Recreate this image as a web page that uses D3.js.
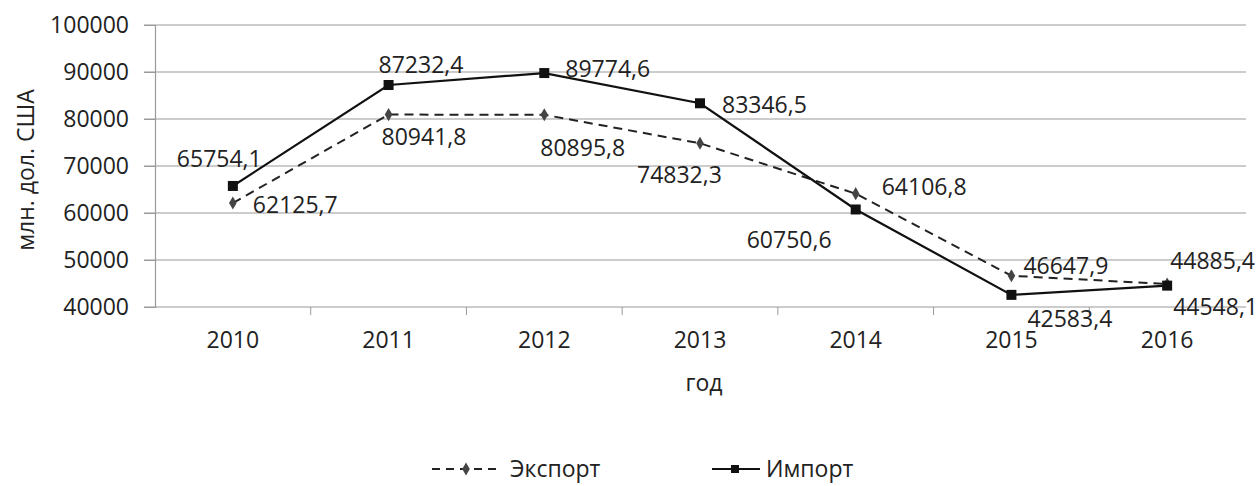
<html>
<head>
<meta charset="utf-8">
<script src="https://d3js.org/d3.v7.min.js"></script>
<style>
  body { margin: 0; background: #fff; }
  text { font-family: "Open Sans", sans-serif; fill: #222; }
</style>
</head>
<body>
<div id="chart"></div>
<script>
const years = ["2010", "2011", "2012", "2013", "2014", "2015", "2016"];
const exportVals = [62125.7, 80941.8, 80895.8, 74832.3, 64106.8, 46647.9, 44885.4];
const importVals = [65754.1, 87232.4, 89774.6, 83346.5, 60750.6, 42583.4, 44548.1];
const yTicks = [40000, 50000, 60000, 70000, 80000, 90000, 100000];

// label placement (dx, dy) from each point, text starts there
const exportLabelPos = [[20, 10], [-7, 30], [-4, 41], [-63, 40], [26, 1], [12, -2], [3, -15]];
const importLabelPos = [[-56, -19], [-10, -12], [21, 4], [22, 10], [-109, 39], [16, 32], [6, 29]];

const W = 1260, H = 486;
const margin = { top: 25, left: 155, right: 1245 };

const svg = d3.select("#chart").append("svg").attr("width", W).attr("height", H);

const x = d3.scaleBand().domain(years).range([margin.left, margin.right]);
const y = d3.scaleLinear().domain([40000, 100000]).range([307, margin.top]);
const cx = d => x(d) + x.bandwidth() / 2;

// gridlines
svg.append("g").selectAll("line").data(yTicks).join("line")
  .attr("x1", margin.left - 11).attr("x2", 1246)
  .attr("y1", d => y(d)).attr("y2", d => y(d))
  .attr("stroke", "#9a9a9a").attr("stroke-width", 1.2);

// y axis
const yAxis = svg.append("g").attr("transform", `translate(${margin.left},0)`)
  .call(d3.axisLeft(y).tickValues(yTicks).tickSize(11).tickPadding(15).tickFormat(d3.format("d")));
yAxis.select(".domain").attr("stroke", "#9a9a9a").attr("stroke-width", 1.2);
yAxis.selectAll(".tick line").attr("stroke", "#9a9a9a");
yAxis.selectAll("text").style("font-size", "23px").style("font-family", "Open Sans").attr("fill", "#222");

// x axis
const xAxis = svg.append("g").attr("transform", `translate(0,${y(40000)})`)
  .call(d3.axisBottom(x).tickSize(0).tickPadding(25));
xAxis.select(".domain").remove();
xAxis.selectAll("text").style("font-size", "23px").style("font-family", "Open Sans").attr("fill", "#222");
svg.append("g").selectAll("line").data(years.slice(1)).join("line")
  .attr("x1", d => x(d)).attr("x2", d => x(d))
  .attr("y1", y(40000)).attr("y2", y(40000) + 8)
  .attr("stroke", "#9a9a9a");

// axis titles
svg.append("text").attr("x", 704).attr("y", 391).attr("text-anchor", "middle")
  .style("font-size", "23px").text("год");
svg.append("text").attr("transform", "translate(34,170) rotate(-90)").attr("text-anchor", "middle")
  .style("font-size", "23px").text("млн. дол. США");

const line = d3.line().x((d, i) => cx(years[i])).y(d => y(d));

// export (dashed)
svg.append("path").datum(exportVals).attr("d", line)
  .attr("fill", "none").attr("stroke", "#222").attr("stroke-width", 2).attr("stroke-dasharray", "9,6");
svg.append("g").selectAll("path").data(exportVals).join("path")
  .attr("transform", (d, i) => `translate(${cx(years[i])},${y(d)})`)
  .attr("d", d3.symbol(d3.symbolDiamond, 50))
  .attr("fill", "#444");

// import (solid)
svg.append("path").datum(importVals).attr("d", line)
  .attr("fill", "none").attr("stroke", "#111").attr("stroke-width", 2.2);
svg.append("g").selectAll("rect").data(importVals).join("rect")
  .attr("x", (d, i) => cx(years[i]) - 5).attr("y", d => y(d) - 5)
  .attr("width", 10).attr("height", 10).attr("fill", "#111");

// data labels
const fmt = v => d3.format(".1f")(v).replace(".", ",");
svg.append("g").selectAll("text").data(exportVals).join("text")
  .attr("x", (d, i) => cx(years[i]) + exportLabelPos[i][0])
  .attr("y", (d, i) => y(d) + exportLabelPos[i][1])
  .style("font-size", "23px").text(fmt);
svg.append("g").selectAll("text").data(importVals).join("text")
  .attr("x", (d, i) => cx(years[i]) + importLabelPos[i][0])
  .attr("y", (d, i) => y(d) + importLabelPos[i][1])
  .style("font-size", "23px").text(fmt);

// legend
const lg = svg.append("g");
lg.append("line").attr("x1", 432).attr("x2", 500).attr("y1", 469).attr("y2", 469)
  .attr("stroke", "#222").attr("stroke-width", 2).attr("stroke-dasharray", "8,6");
lg.append("path").attr("transform", "translate(466,469)").attr("d", d3.symbol(d3.symbolDiamond, 50)).attr("fill", "#444");
lg.append("text").attr("x", 510).attr("y", 477).style("font-size", "23px").text("Экспорт");
lg.append("line").attr("x1", 712).attr("x2", 760).attr("y1", 469).attr("y2", 469)
  .attr("stroke", "#111").attr("stroke-width", 2.2);
lg.append("rect").attr("x", 731).attr("y", 465).attr("width", 8).attr("height", 8).attr("fill", "#111");
lg.append("text").attr("x", 766).attr("y", 477).style("font-size", "23px").text("Импорт");
</script>
</body>
</html>
